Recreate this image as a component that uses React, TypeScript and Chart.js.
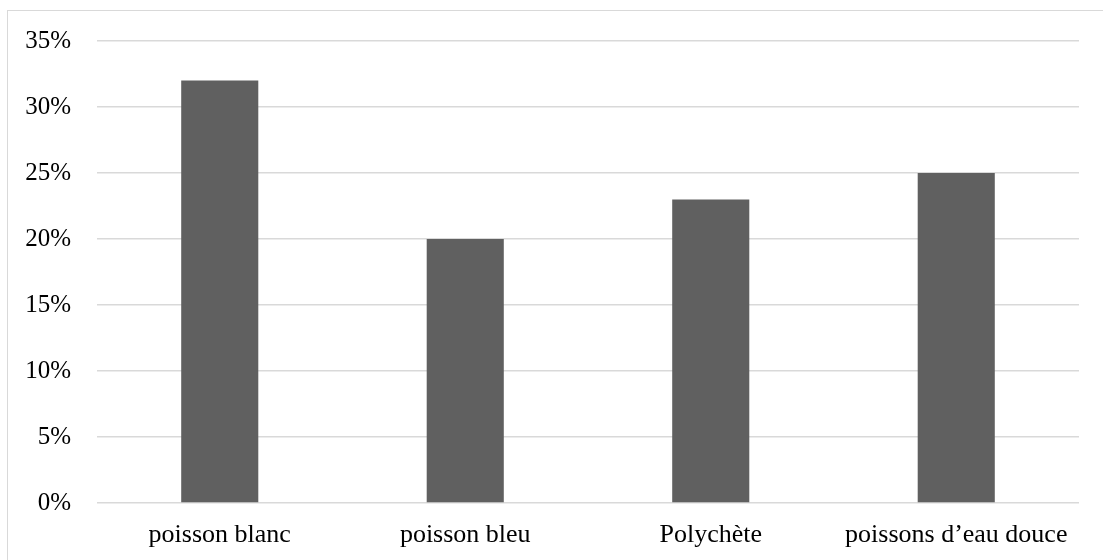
import React, { useEffect, useRef } from "react";
import { Chart, registerables } from "chart.js";

Chart.register(...registerables);

const categories = ["poisson blanc", "poisson bleu", "Polychète", "poissons d\u2019eau douce"];
const values = [32, 20, 23, 25];
const yTicks = [0, 5, 10, 15, 20, 25, 30, 35];

export default function App() {
  const ref = useRef<HTMLCanvasElement>(null);
  useEffect(() => {
    if (!ref.current) return;
    const chart = new Chart(ref.current, {
      type: "bar",
      data: {
        labels: categories,
        datasets: [
          {
            data: values,
            backgroundColor: "#606060",
            barPercentage: 1,
            categoryPercentage: 0.314,
          },
        ],
      },
      options: {
        animation: false,
        responsive: false,
        maintainAspectRatio: false,
        layout: { padding: { top: 40, right: 24, bottom: 0, left: 0 } },
        plugins: { legend: { display: false }, tooltip: { enabled: false } },
        scales: {
          x: {
            grid: { display: false, drawTicks: false },
            border: { display: false },
            ticks: {
              color: "#000",
              padding: 17,
              maxRotation: 0,
              autoSkip: false,
              font: { family: "'Liberation Serif', 'Times New Roman', serif", size: 26 },
            },
            afterFit: (s: any) => {
              s.height = 57;
            },
          },
          y: {
            min: 0,
            max: 35,
            afterBuildTicks: (s: any) => {
              s.ticks = yTicks.map((v) => ({ value: v }));
            },
            grid: { color: "#d9d9d9", lineWidth: 1.5, drawTicks: false },
            border: { display: false },
            ticks: {
              color: "#000",
              padding: 26,
              callback: (v: any) => v + "%",
              font: { family: "'Liberation Serif', 'Times New Roman', serif", size: 25 },
            },
            afterFit: (s: any) => {
              s.width = 97;
            },
          },
        },
      },
    });
    return () => chart.destroy();
  }, []);
  return (
    <div style={{ position: "fixed", left: 0, top: 0, width: 1103, height: 560, overflow: "hidden", background: "#fff" }}>
      <div
        style={{
          position: "absolute",
          left: 7,
          top: 10,
          width: 1200,
          height: 700,
          border: "1px solid #d9d9d9",
          boxSizing: "border-box",
        }}
      />
      <canvas ref={ref} width={1103} height={560} style={{ position: "absolute", left: 0, top: 0 }} />
    </div>
  );
}
